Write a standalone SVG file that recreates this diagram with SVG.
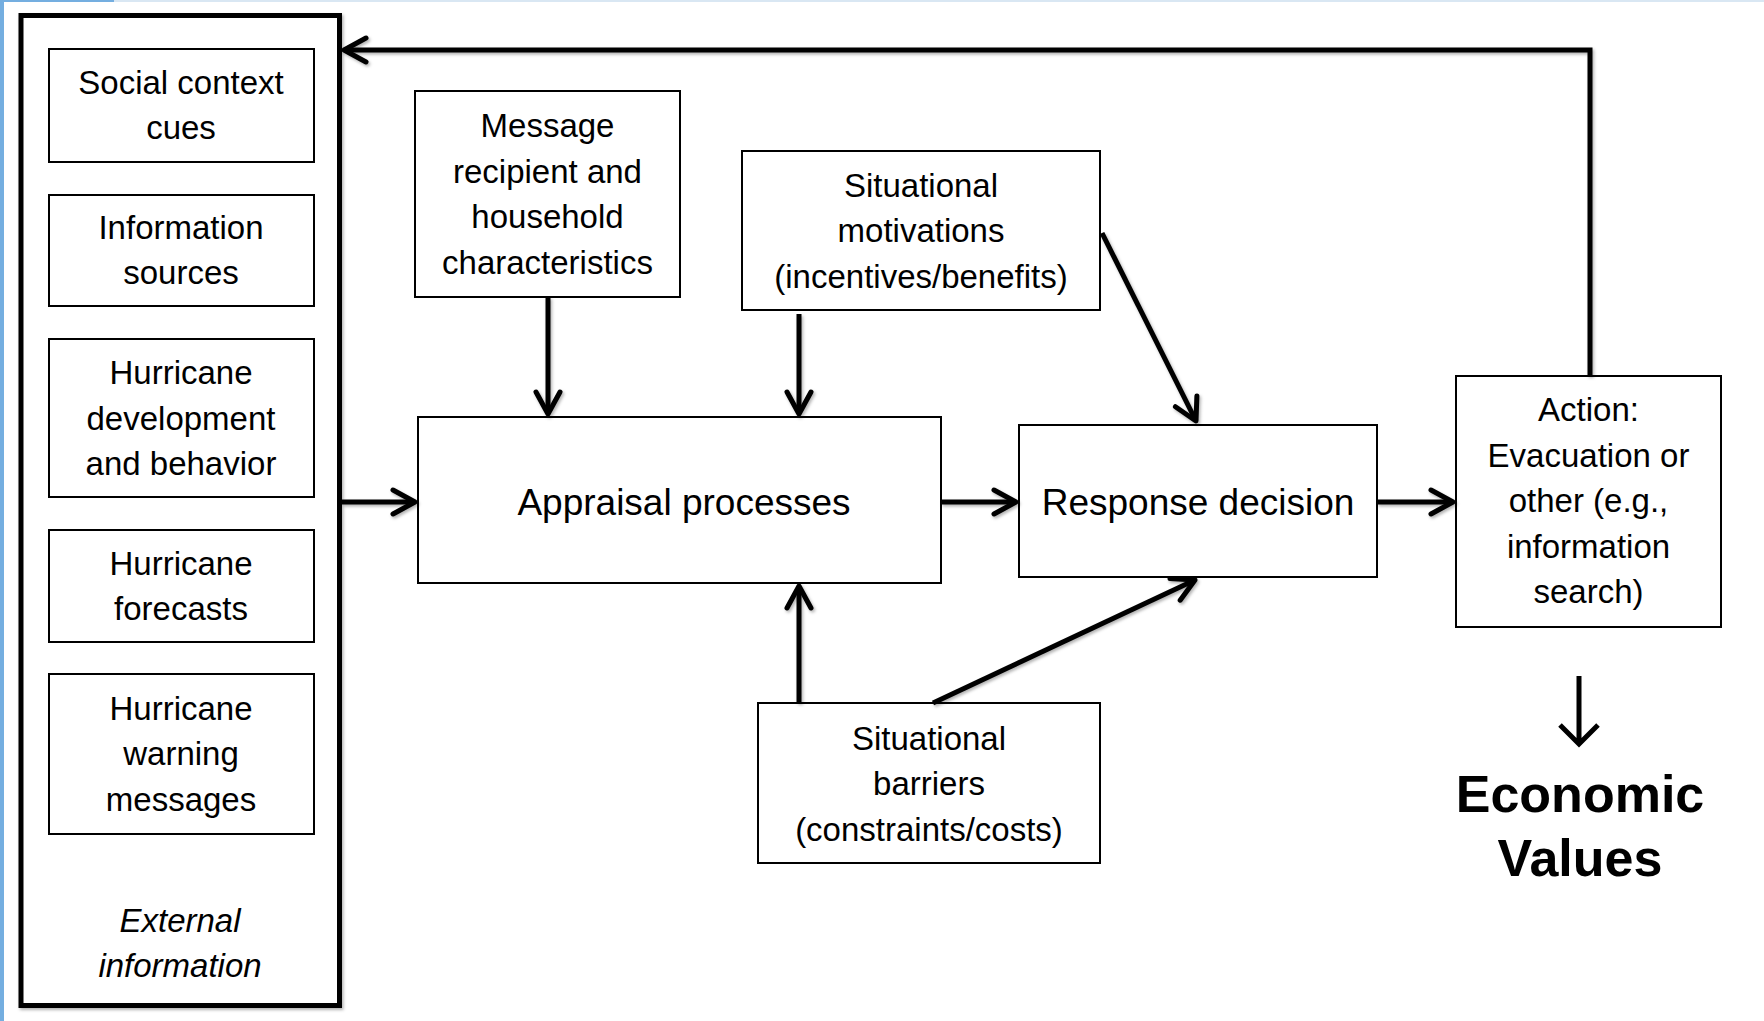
<svg xmlns="http://www.w3.org/2000/svg" width="1764" height="1021" viewBox="0 0 1764 1021">
<style>
.box{fill:#fff;stroke:#000;stroke-width:2}
.t{font-family:"Liberation Sans",Arial,sans-serif;font-size:33px;fill:#000;text-anchor:middle}
.big{font-size:37px}
.it{font-style:italic}
.conn{fill:none;stroke:#000;stroke-width:5;filter:url(#sh)}
.ev{font-family:"Liberation Sans",Arial,sans-serif;font-size:52px;font-weight:bold;fill:#000;text-anchor:middle}
</style>
<defs>
<filter id="sh" filterUnits="userSpaceOnUse" x="0" y="0" width="1764" height="1021">
<feDropShadow dx="1.5" dy="2" stdDeviation="1.5" flood-color="#000" flood-opacity="0.3"/>
</filter>
<marker id="ah" markerUnits="userSpaceOnUse" viewBox="-30 -16 34 32" refX="0" refY="0" markerWidth="34" markerHeight="32" orient="auto" overflow="visible">
<path d="M-22,-12 L0,0 L-22,12" fill="none" stroke="#000" stroke-width="5" stroke-linecap="round" stroke-linejoin="round"/>
</marker>
</defs>
<rect x="0" y="0" width="1764" height="1021" fill="#fff"/>
<rect x="0" y="0" width="4" height="1021" fill="#74aee0"/>
<rect x="0" y="0" width="114" height="2" fill="#74aee0"/>
<rect x="114" y="0" width="1650" height="2" fill="#d9e7f3"/>

<g id="external-information">
<rect x="21" y="15.5" width="318.5" height="990" fill="#fff" stroke="#000" stroke-width="5" filter="url(#sh)"/>
<text class="t it" x="180" y="932">External</text>
<text class="t it" x="180" y="977">information</text>
</g>
<g id="social-context-cues">
<rect class="box" x="49" y="49" width="265" height="113"/>
<text class="t" x="181" y="94">Social context</text>
<text class="t" x="181" y="139">cues</text>
</g>
<g id="information-sources">
<rect class="box" x="49" y="195" width="265" height="111"/>
<text class="t" x="181" y="239">Information</text>
<text class="t" x="181" y="284">sources</text>
</g>
<g id="hurricane-development">
<rect class="box" x="49" y="339" width="265" height="158"/>
<text class="t" x="181" y="384">Hurricane</text>
<text class="t" x="181" y="430">development</text>
<text class="t" x="181" y="475">and behavior</text>
</g>
<g id="hurricane-forecasts">
<rect class="box" x="49" y="530" width="265" height="112"/>
<text class="t" x="181" y="575">Hurricane</text>
<text class="t" x="181" y="620">forecasts</text>
</g>
<g id="hurricane-warning">
<rect class="box" x="49" y="674" width="265" height="160"/>
<text class="t" x="181" y="720">Hurricane</text>
<text class="t" x="181" y="765">warning</text>
<text class="t" x="181" y="811">messages</text>
</g>
<g id="message-recipient">
<rect class="box" x="415" y="91" width="265" height="206"/>
<text class="t" x="547.5" y="137">Message</text>
<text class="t" x="547.5" y="183">recipient and</text>
<text class="t" x="547.5" y="228">household</text>
<text class="t" x="547.5" y="274">characteristics</text>
</g>
<g id="situational-motivations">
<rect class="box" x="742" y="151" width="358" height="159"/>
<text class="t" x="921" y="197">Situational</text>
<text class="t" x="921" y="242">motivations</text>
<text class="t" x="921" y="288">(incentives/benefits)</text>
</g>
<g id="appraisal-processes">
<rect class="box" x="418" y="417" width="523" height="166"/>
<text class="t big" x="684" y="515">Appraisal processes</text>
</g>
<g id="response-decision">
<rect class="box" x="1019" y="425" width="358" height="152"/>
<text class="t big" x="1198" y="515">Response decision</text>
</g>
<g id="action">
<rect class="box" x="1456" y="376" width="265" height="251"/>
<text class="t" x="1588.5" y="421">Action:</text>
<text class="t" x="1588.5" y="467">Evacuation or</text>
<text class="t" x="1588.5" y="512">other (e.g.,</text>
<text class="t" x="1588.5" y="558">information</text>
<text class="t" x="1588.5" y="603">search)</text>
</g>
<g id="situational-barriers">
<rect class="box" x="758" y="703" width="342" height="160"/>
<text class="t" x="929" y="750">Situational</text>
<text class="t" x="929" y="795">barriers</text>
<text class="t" x="929" y="841">(constraints/costs)</text>
</g>
<g id="economic-values">
<path d="M1579,676 V744 M1560,725 L1579,744 L1598,725" fill="none" stroke="#000" stroke-width="5"/>
<text class="ev" x="1580" y="812">Economic</text>
<text class="ev" x="1580" y="876">Values</text>
</g>

<g id="connectors">
<path class="conn" d="M1590,376 V50 H344" marker-end="url(#ah)"/>
<path class="conn" d="M342,502 H415" marker-end="url(#ah)"/>
<path class="conn" d="M548,297 V414" marker-end="url(#ah)"/>
<path class="conn" d="M799,314 V414" marker-end="url(#ah)"/>
<path class="conn" d="M1102,233 L1196,421" marker-end="url(#ah)"/>
<path class="conn" d="M941,502 H1016" marker-end="url(#ah)"/>
<path class="conn" d="M1377,502 H1453" marker-end="url(#ah)"/>
<path class="conn" d="M799,703 V586" marker-end="url(#ah)"/>
<path class="conn" d="M933,703 L1195,580" marker-end="url(#ah)"/>
</g>
</svg>
